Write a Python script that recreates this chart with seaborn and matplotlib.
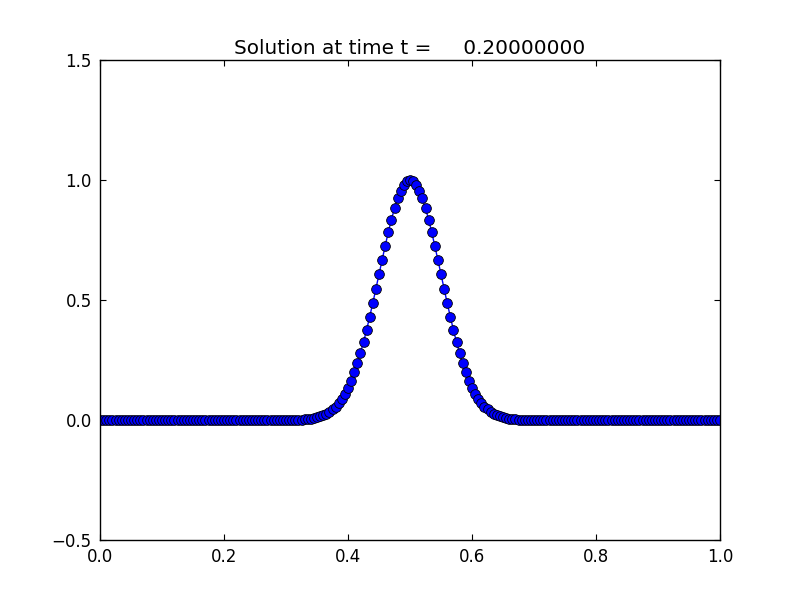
import numpy as np
import seaborn as sns
from matplotlib import pyplot as plt

# Grid: 201 points on [0, 1]
x = np.linspace(0.0, 1.0, 201)

# Solution values
zeros_left = [0.0] * 60          # x = 0.000 .. 0.295
pulse = [0.0003, 0.0005, 0.0007, 0.001, 0.0015, 0.002, 0.003, 0.004, 0.006, 0.008,
         0.011, 0.015, 0.020, 0.026, 0.034, 0.044, 0.056, 0.071, 0.089, 0.110,
         0.135, 0.164, 0.198, 0.236, 0.278, 0.325, 0.375, 0.430, 0.487, 0.546,
         0.607, 0.667, 0.726, 0.783, 0.835, 0.882, 0.923, 0.956, 0.980, 0.995,
         0.998,
         0.995, 0.980, 0.956, 0.923, 0.882, 0.835, 0.783, 0.726, 0.667, 0.607,
         0.546, 0.487, 0.430, 0.375, 0.325, 0.278, 0.236, 0.198, 0.164, 0.135,
         0.110, 0.089, 0.071, 0.056, 0.044, 0.034, 0.026, 0.020, 0.015, 0.011,
         0.008, 0.006, 0.004, 0.003, 0.002, 0.0015, 0.001, 0.0007, 0.0005, 0.0003]
zeros_right = [0.0] * 60         # x = 0.705 .. 1.000
y = np.array(zeros_left + pulse + zeros_right)

xticks = [0.0, 0.2, 0.4, 0.6, 0.8, 1.0]
yticks = [-0.5, 0.0, 0.5, 1.0, 1.5]
title = "Solution at time t =     0.20000000"

sns.set_style("white")
plt.rcParams['font.family'] = ['DejaVu Sans']
plt.rcParams['text.color'] = 'k'

fig = plt.figure(figsize=(8, 6), dpi=100)
ax = fig.add_subplot(111)
fig.subplots_adjust(left=0.125, right=0.9, bottom=0.1, top=0.9)

sns.lineplot(x=x, y=y, ax=ax, color='b', linewidth=1.0, marker='o',
             markersize=7, markerfacecolor='b', markeredgecolor='k',
             markeredgewidth=0.6)

ax.set_xlim(0, 1)
ax.set_ylim(-0.5, 1.5)
ax.set_xticks(xticks)
ax.set_yticks(yticks)
ax.set_xticklabels([f"{t:.1f}" for t in xticks])
ax.set_yticklabels([f"{t:.1f}".replace('-', '\u2212') for t in yticks])
ax.tick_params(direction='in', length=4, width=0.8, top=True, right=True,
               bottom=True, left=True, labelsize=12, colors='k', pad=6)
for s in ax.spines.values():
    s.set_color('k')
    s.set_linewidth(1.0)
ax.set_title(title, fontsize=14.4, pad=4, color='k')

fig.savefig('out.png', dpi=100, facecolor='white')
